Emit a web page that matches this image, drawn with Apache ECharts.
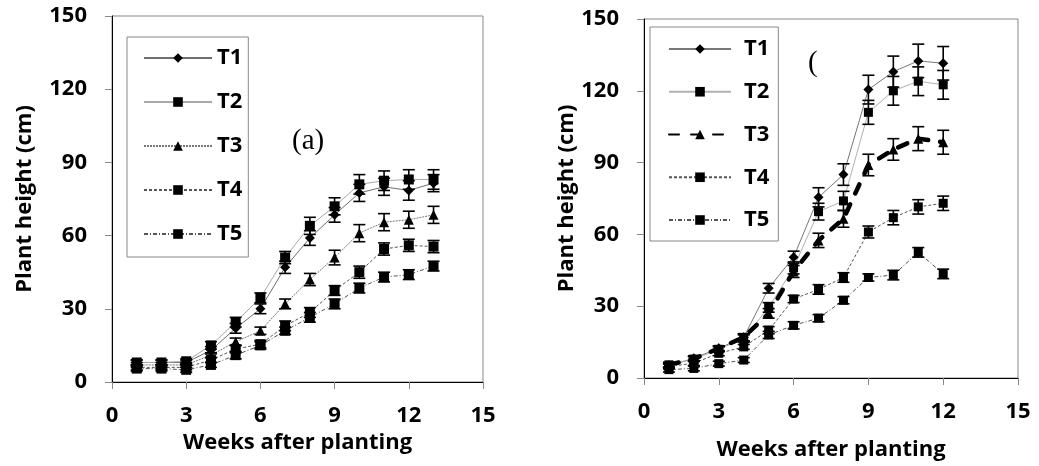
<!DOCTYPE html>
<html>
<head>
<meta charset="utf-8">
<script src="https://cdn.jsdelivr.net/npm/echarts@6/dist/echarts.min.js"></script>
<style>
  html, body { margin: 0; padding: 0; background: #fff; }
  #chart { width: 1039px; height: 466px; }
</style>
</head>
<body>
<div id="chart"></div>
<script>
// Weeks after planting
const weeksA = [1, 2, 3, 4, 5, 6, 7, 8, 9, 10, 11, 12, 13];
const weeksB = [1, 2, 3, 4, 5, 6, 7, 8, 9, 10, 11, 12];
const treatments = ['T1', 'T2', 'T3', 'T4', 'T5'];
const xTicks = [0, 3, 6, 9, 12, 15];
const yTicks = [0, 30, 60, 90, 120, 150];

// Panel (a): plant height (cm) and error (±)
const aT1 = [8, 8, 8, 13, 22, 30, 47, 59, 68.5, 77.5, 80, 78.5, 81.5];
const aT2 = [8, 8, 8.5, 15, 24.5, 34.5, 51, 64, 72, 81, 82.5, 83, 83];
const aT3 = [7, 7, 7, 11, 16.5, 21, 32, 42, 51, 61, 65.5, 66.5, 68.5];
const aT4 = [6, 6, 6, 9, 13.5, 15.5, 23, 28.5, 37.5, 45, 54.5, 56, 55.5];
const aT5 = [5.5, 5.5, 5, 7, 11, 15, 21, 26.5, 32, 38.5, 43, 44, 47.5];
const aT1e = [1, 1, 1, 1.5, 2, 2, 2.5, 3, 3, 3.5, 3.5, 4, 3.5];
const aT2e = [1, 1, 1, 1.5, 2, 2, 2.5, 3.5, 3.5, 4, 4, 4, 4];
const aT3e = [1, 1, 1, 1, 1.5, 1.5, 2, 2.5, 3, 3.5, 3.5, 3.5, 3.5];
const aT4e = [1, 1, 1, 1, 1.5, 1.5, 2, 2, 2, 2.5, 2.5, 2.5, 2.5];
const aT5e = [1, 1, 1, 1, 1.5, 1.5, 1.5, 2, 2, 2, 2, 2, 2];

// Panel (b): plant height (cm) and error (±)
const bT1 = [5, 8.3, 12.4, 17, 37.5, 50.5, 75.5, 85, 120.5, 128, 132.5, 131.5];
const bT2 = [5.5, 7.9, 12, 16.5, 29.5, 46, 69.5, 74, 111, 120, 124, 122.5];
const bT3 = [5.5, 8, 12.4, 17, 27, 44.5, 57.5, 66.5, 89, 95.5, 100, 98.5];
const bT4 = [4.8, 6.2, 10.3, 13, 20, 33, 37, 42, 61, 67, 71.5, 73];
const bT5 = [3.5, 4, 6, 7.5, 18, 22, 25, 32.5, 42, 43, 52.5, 43.5];
const bT1e = [1, 1, 1, 1.5, 2, 2.5, 4, 4.5, 6, 6.5, 7, 7];
const bT2e = [1, 1, 1, 1.5, 2, 2.5, 3.5, 4, 5, 6, 6, 6];
const bT3e = [1, 1, 1, 1.5, 2, 2.5, 3, 3.5, 4.5, 4.5, 5, 5];
const bT4e = [1, 1, 1, 1, 1.5, 1.5, 2, 2, 2.5, 3, 3, 3];
const bT5e = [1, 1, 1, 1, 1.5, 1.5, 1.5, 1.5, 1.5, 2, 2, 2];

const FONT = '"Open Sans", "DejaVu Sans", sans-serif';

// Line / marker look per treatment in each panel
const styleA = [
  { symbol: 'diamond', size: 10, line: { color: '#6f6f6f', width: 1, type: 'solid' } },
  { symbol: 'rect', size: 10, line: { color: '#a8a8a8', width: 1, type: 'solid' } },
  { symbol: 'triangle', size: 10, line: { color: '#777', width: 1, type: [2, 1] } },
  { symbol: 'rect', size: 10, line: { color: '#555', width: 1, type: [3, 2] } },
  { symbol: 'rect', size: 10, line: { color: '#555', width: 1, type: [4, 2, 1, 2] } }
];
const styleB = [
  { symbol: 'diamond', size: 10, line: { color: '#777', width: 1, type: 'solid' } },
  { symbol: 'rect', size: 9, line: { color: '#b0b0b0', width: 1, type: 'solid' } },
  { symbol: 'triangle', size: 10, line: { color: '#000', width: 4.5, type: [10, 12], cap: 'round' } },
  { symbol: 'rect', size: 9, line: { color: '#555', width: 1, type: [3, 2] } },
  { symbol: 'rect', size: 9, line: { color: '#555', width: 1, type: [4, 2, 1, 2] } }
];

const panelA = { weeks: weeksA, vals: [aT1, aT2, aT3, aT4, aT5], errs: [aT1e, aT2e, aT3e, aT4e, aT5e], style: styleA, prefix: 'a' };
const panelB = { weeks: weeksB, vals: [bT1, bT2, bT3, bT4, bT5], errs: [bT1e, bT2e, bT3e, bT4e, bT5e], style: styleB, prefix: 'b' };

function errorBarRender(params, api) {
  const x = api.value(0), y = api.value(1), e = api.value(2);
  const hi = api.coord([x, y + e]);
  const lo = api.coord([x, y - e]);
  const hw = 6;
  const st = { stroke: '#000', lineWidth: 1.6 };
  return {
    type: 'group',
    children: [
      { type: 'line', shape: { x1: hi[0], y1: hi[1], x2: lo[0], y2: lo[1] }, style: st },
      { type: 'line', shape: { x1: hi[0] - hw, y1: hi[1], x2: hi[0] + hw, y2: hi[1] }, style: st },
      { type: 'line', shape: { x1: lo[0] - hw, y1: lo[1], x2: lo[0] + hw, y2: lo[1] }, style: st }
    ]
  };
}

function buildSeries(panel, axisIndex) {
  const out = [];
  treatments.forEach((t, i) => {
    const s = panel.style[i];
    out.push({
      name: panel.prefix + ':' + t,
      type: 'line',
      xAxisIndex: axisIndex,
      yAxisIndex: axisIndex,
      data: panel.weeks.map((w, k) => [w, panel.vals[i][k]]),
      symbol: s.symbol,
      symbolSize: s.size,
      itemStyle: { color: '#000' },
      lineStyle: Object.assign({}, s.line),
      z: 3,
      animation: false
    });
    out.push({
      type: 'custom',
      xAxisIndex: axisIndex,
      yAxisIndex: axisIndex,
      data: panel.weeks.map((w, k) => [w, panel.vals[i][k], panel.errs[i][k]]),
      renderItem: errorBarRender,
      encode: { x: 0, y: 1 },
      z: 4,
      silent: true,
      animation: false
    });
  });
  return out;
}

function makeX(gridIndex, nameGap) {
  return {
    type: 'value', gridIndex, min: xTicks[0], max: xTicks[xTicks.length - 1], interval: 3,
    name: 'Weeks after planting', nameLocation: 'middle', nameGap,
    nameTextStyle: { fontFamily: FONT, fontWeight: 'bold', fontSize: 22, color: '#000' },
    axisLine: { onZero: false, lineStyle: { color: '#000', width: 1 } },
    axisTick: { show: true, length: 7, lineStyle: { color: '#888' } },
    axisLabel: { margin: 23, fontFamily: FONT, fontWeight: 'bold', fontSize: 22, color: '#000' },
    splitLine: { show: false }
  };
}
function makeY(gridIndex, nameGap) {
  return {
    type: 'value', gridIndex, min: yTicks[0], max: yTicks[yTicks.length - 1], interval: 30,
    name: 'Plant height (cm)', nameLocation: 'middle', nameGap, nameRotate: 90,
    nameTextStyle: { fontFamily: FONT, fontWeight: 'bold', fontSize: 22, color: '#000' },
    axisLine: { show: true, onZero: false, lineStyle: { color: '#000', width: 1 } },
    axisTick: { show: true, length: 7, lineStyle: { color: '#888' } },
    axisLabel: { margin: 25, fontFamily: FONT, fontWeight: 'bold', fontSize: 22, color: '#000' },
    splitLine: { show: false }
  };
}

function makeLegend(panel, pos) {
  return {
    orient: 'vertical',
    left: pos.left, top: pos.top,
    data: treatments.map(t => panel.prefix + ':' + t),
    formatter: name => name.split(':')[1],
    itemWidth: pos.itemWidth, itemHeight: 12, itemGap: pos.gap,
    padding: pos.padding,
    borderColor: '#888', borderWidth: 1, borderRadius: 0,
    backgroundColor: '#fff',
    selectedMode: false,
    textStyle: { fontFamily: FONT, fontWeight: 'bold', fontSize: 22, color: '#000', lineHeight: 20, padding: [0, 0, 0, pos.textPad] }
  };
}

const chart = echarts.init(document.getElementById('chart'), null, { renderer: 'canvas' });
chart.setOption({
  backgroundColor: '#fff',
  animation: false,
  grid: [
    { left: 112, top: 16, width: 371, height: 366, show: true, borderColor: '#888', borderWidth: 1, backgroundColor: 'transparent' },
    { left: 644, top: 19, width: 374, height: 363, show: true, borderColor: '#888', borderWidth: 1, backgroundColor: 'transparent' }
  ],
  xAxis: [makeX(0, 50), makeX(1, 61)],
  yAxis: [makeY(0, 76), makeY(1, 66)],
  legend: [
    makeLegend(panelA, { left: 127, top: 37, itemWidth: 68, gap: 22, padding: [10, 6, 12, 16], textPad: 0 }),
    makeLegend(panelB, { left: 650, top: 27, itemWidth: 62, gap: 20.75, padding: [11, 9, 10, 18], textPad: 8 })
  ],
  graphic: [
    { type: 'text', left: 292, top: 127, style: { text: '(a)', font: '29px "Liberation Serif", serif', fill: '#000' } },
    { type: 'text', left: 808, top: 49, style: { text: '(', font: '29px "Liberation Serif", serif', fill: '#000' } }
  ],
  series: [].concat(buildSeries(panelA, 0), buildSeries(panelB, 1))
});
</script>
</body>
</html>
